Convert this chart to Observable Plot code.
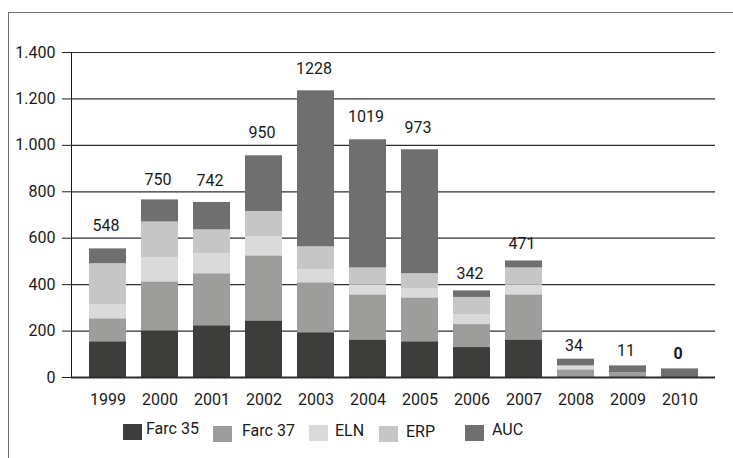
<!DOCTYPE html>
<html><head><meta charset="utf-8">
<script src="https://cdn.jsdelivr.net/npm/d3@7"></script>
<script src="https://cdn.jsdelivr.net/npm/@observablehq/plot@0.6"></script>
<style>
body{margin:0;background:#fff;font-family:Roboto,"DejaVu Sans",sans-serif;}
#page{position:relative;width:733px;height:458px;overflow:hidden;}
#border{position:absolute;left:8px;top:12px;width:800px;height:500px;border-left:1.5px solid #6f6f6f;border-top:1.5px solid #6f6f6f;}
#chart{position:absolute;left:0;top:0;}
#legend{position:relative;width:733px;height:46px;font-size:16px;color:#1a1a1a;}
.sw{position:absolute;width:19px;height:16px;}
.lt{position:absolute;line-height:16px;white-space:nowrap;}
</style></head><body>
<div id="page"><div id="border"></div><div id="chart"></div></div>
<script>
const years = [1999, 2000, 2001, 2002, 2003, 2004, 2005, 2006, 2007, 2008, 2009, 2010];
const seriesNames = ["Farc 35", "Farc 37", "ELN", "ERP", "AUC"];
const farc35 = [154, 201, 223, 244, 193, 162, 154, 129, 162, 0, 0, 0];
const farc37 = [99, 211, 224, 280, 215, 194, 189, 99, 194, 33, 20, 0];
const eln    = [60, 104, 86, 82, 56, 43, 39, 43, 43, 17, 0, 0];
const erp    = [177, 154, 103, 109, 99, 73, 65, 74, 73, 0, 0, 0];
const auc    = [64, 95, 118, 240, 672, 552, 534, 28, 30, 29, 30, 37];
const totals = [548, 750, 742, 950, 1228, 1019, 973, 342, 471, 34, 11, 0];
const yTicks = [0, 200, 400, 600, 800, 1000, 1200, 1400];

const colors = ["#3d3d3b", "#9d9d9c", "#dadada", "#c6c6c6", "#6f6f6f"];
const seriesValues = [farc35, farc37, eln, erp, auc];

const rows = [];
seriesNames.forEach((s, i) => years.forEach((y, j) => rows.push({year: y, series: s, value: seriesValues[i][j]})));
const labelRows = years.map((y, j) => ({year: y, label: totals[j]}));

const locale = d3.formatLocale({decimal: ",", thousands: ".", grouping: [3], currency: ["", ""]});
const fmt = locale.format(",");

const chart = Plot.plot({
  width: 733, height: 412,
  marginLeft: 71, marginRight: 18, marginTop: 52, marginBottom: 35,
  style: {fontFamily: "Roboto, 'DejaVu Sans', sans-serif", fontSize: "16px", color: "#1a1a1a", background: "transparent", overflow: "visible"},
  x: {domain: years, paddingInner: 0.29, paddingOuter: 0.31, label: null, tickSize: 0, tickPadding: 16, tickFormat: d => String(d)},
  y: {domain: [0, 1400], ticks: yTicks, tickFormat: fmt, label: null, tickSize: 9, tickPadding: 7, line: true},
  color: {domain: seriesNames, range: colors},
  marks: [
    Plot.ruleY(yTicks.filter(d => d > 0), {stroke: "#2e2e2e", strokeWidth: 1.2}),
    Plot.barY(rows, {x: "year", y: "value", fill: "series"}),
    Plot.ruleY([0], {stroke: "#2e2e2e", strokeWidth: 1.8}),
    Plot.text(labelRows.filter(d => d.label !== 0), {x: "year", y: "label", text: d => String(d.label), dy: -24, dx: -2, fill: "#1a1a1a"}),
    Plot.text(labelRows.filter(d => d.label === 0), {x: "year", y: "label", text: d => String(d.label), dy: -24, dx: -2, fill: "#1a1a1a", fontWeight: "bold"})
  ]
});
const holder = document.getElementById("chart");
holder.appendChild(chart);

// legend below the svg
const legend = document.createElement("div");
legend.id = "legend";
const legendPos = [[123, 146, 12, 9], [213, 242, 14, 11], [309, 335, 13, 11], [379, 406, 14, 12], [465, 492, 13, 10]];
seriesNames.forEach((s, i) => {
  const sw = document.createElement("div");
  sw.className = "sw";
  sw.style.left = legendPos[i][0] + "px";
  sw.style.top = legendPos[i][2] + "px";
  sw.style.background = colors[i];
  const t = document.createElement("div");
  t.className = "lt";
  t.style.left = legendPos[i][1] + "px";
  t.style.top = legendPos[i][3] + "px";
  t.textContent = s;
  legend.appendChild(sw);
  legend.appendChild(t);
});
holder.appendChild(legend);
</script>
</body></html>
